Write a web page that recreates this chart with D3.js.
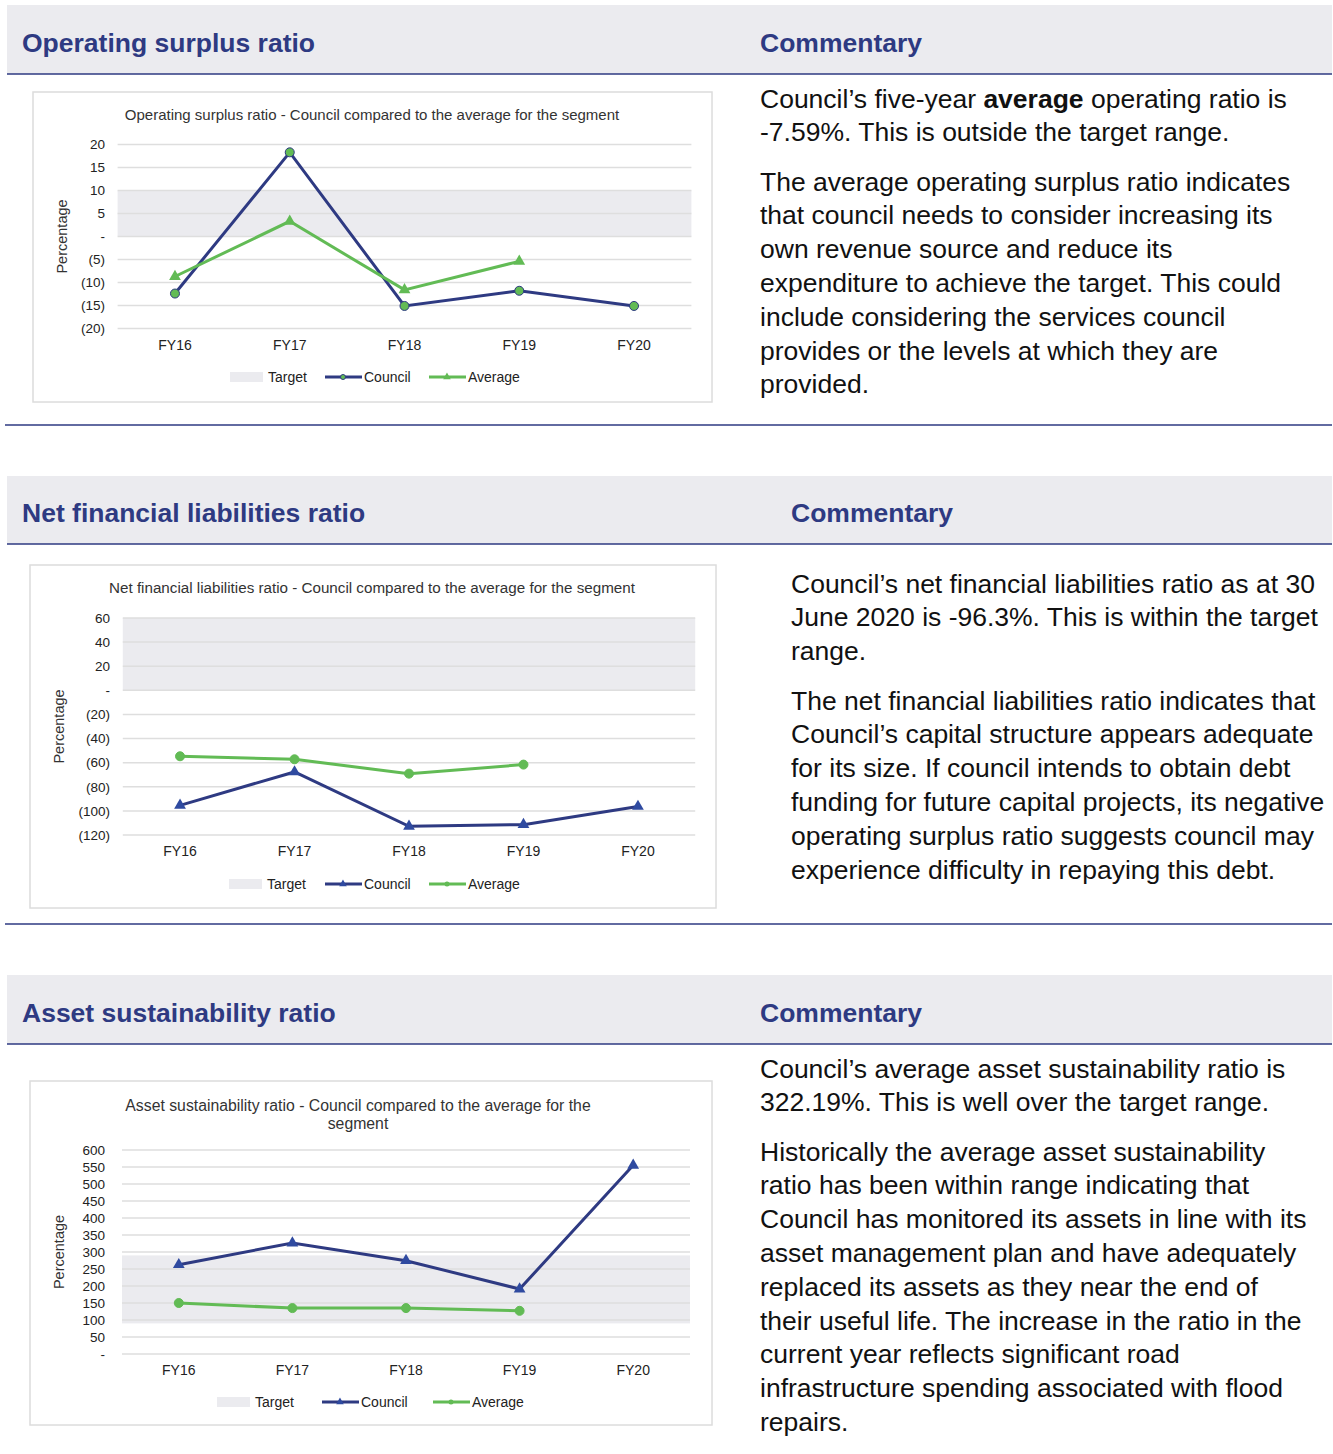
<!DOCTYPE html>
<html lang="en">
<head>
<meta charset="UTF-8">
<title>Financial sustainability ratios</title>
<style>
  body { margin: 0; background: #fff; font-family: "Liberation Sans", Arial, sans-serif; }
  svg text { font-family: "Liberation Sans", Arial, sans-serif; }
  .hdr { font-size: 26.5px; font-weight: bold; fill: #2e3a82; }
  .comm { font-size: 26.5px; fill: #111; }
  .ctitle { fill: #333; }
  .ytick { font-size: 13.5px; fill: #222; }
  .xtick { font-size: 14px; fill: #222; }
  .ylab { font-size: 14.5px; fill: #333; }
  .leg { font-size: 14px; fill: #222; }
</style>
</head>
<body>
<svg id="page"></svg>
<script src="https://d3js.org/d3.v7.min.js"></script>
<script>
// ---- data ----
const years = ["FY16", "FY17", "FY18", "FY19", "FY20"];

const osrCouncil = [-12.4, 18.3, -15.1, -11.8, -15.1];
const osrAverage = [-8.7, 3.3, -11.6, -5.4, null];
const osrTarget = [0, 10];
const osrTicks = [20, 15, 10, 5, 0, -5, -10, -15, -20];

const nflCouncil = [-95.4, -67.7, -112.8, -111.4, -96.3];
const nflAverage = [-54.7, -57.2, -69.1, -61.6, null];
const nflTarget = [0, 60];
const nflTicks = [60, 40, 20, 0, -20, -40, -60, -80, -100, -120];

const asrCouncil = [262.6, 326.5, 274.5, 191.0, 555.0];
const asrAverage = [150, 135, 135, 127, null];
const asrTarget = [90, 290];
const asrTicks = [600, 550, 500, 450, 400, 350, 300, 250, 200, 150, 100, 50, 0];

const navy = "#2e3a82";
const green = "#62bb55";
const band = "#ebebef";

const svg = d3.select("#page").attr("width", 1333).attr("height", 1454);

// accounting style tick labels
const fmt = v => v === 0 ? "-" : v < 0 ? "(" + Math.abs(v) + ")" : String(v);

// ---- section headers / rules ----
const sections = [
  { top: 5, h: 69, left: "Operating surplus ratio", rx: 760, bottom: 425 },
  { top: 476, h: 68, left: "Net financial liabilities ratio", rx: 791, bottom: 924 },
  { top: 975, h: 69, left: "Asset sustainability ratio", rx: 760, bottom: null }
];
sections.forEach(s => {
  svg.append("rect").attr("x", 7).attr("y", s.top).attr("width", 1325).attr("height", s.h).attr("fill", band);
  svg.append("line").attr("x1", 7).attr("x2", 1332).attr("y1", s.top + s.h).attr("y2", s.top + s.h)
    .attr("stroke", navy).attr("stroke-width", 1.3);
  svg.append("text").attr("class", "hdr").attr("x", 22).attr("y", s.top + s.h / 2 + 12).text(s.left);
  svg.append("text").attr("class", "hdr").attr("x", s.rx).attr("y", s.top + s.h / 2 + 12).text("Commentary");
  if (s.bottom) {
    svg.append("line").attr("x1", 5).attr("x2", 1332).attr("y1", s.bottom).attr("y2", s.bottom)
      .attr("stroke", navy).attr("stroke-width", 1.3);
  }
});

// ---- commentary ----
const comments = [
  { x: 760, paras: [
    { y: 98, lines: [["Council’s five-year ", ["average"], " operating ratio is"], ["-7.59%. This is outside the target range."]] },
    { y: 181, lines: [["The average operating surplus ratio indicates"], ["that council needs to consider increasing its"],
      ["own revenue source and reduce its"], ["expenditure to achieve the target. This could"],
      ["include considering the services council"], ["provides or the levels at which they are"], ["provided."]] }
  ]},
  { x: 791, paras: [
    { y: 583, lines: [["Council’s net financial liabilities ratio as at 30"], ["June 2020 is -96.3%. This is within the target"], ["range."]] },
    { y: 700, lines: [["The net financial liabilities ratio indicates that"], ["Council’s capital structure appears adequate"],
      ["for its size. If council intends to obtain debt"], ["funding for future capital projects, its negative"],
      ["operating surplus ratio suggests council may"], ["experience difficulty in repaying this debt."]] }
  ]},
  { x: 760, paras: [
    { y: 1068, lines: [["Council’s average asset sustainability ratio is"], ["322.19%. This is well over the target range."]] },
    { y: 1151, lines: [["Historically the average asset sustainability"], ["ratio has been within range indicating that"],
      ["Council has monitored its assets in line with its"], ["asset management plan and have adequately"],
      ["replaced its assets as they near the end of"], ["their useful life. The increase in the ratio in the"],
      ["current year reflects significant road"], ["infrastructure spending associated with flood"], ["repairs."]] }
  ]}
];
comments.forEach(c => {
  c.paras.forEach(p => {
    p.lines.forEach((ln, i) => {
      const t = svg.append("text").attr("class", "comm").attr("x", c.x).attr("y", p.y + 9.5 + i * 33.8);
      ln.forEach(part => {
        if (Array.isArray(part)) t.append("tspan").attr("font-weight", "bold").text(part[0]);
        else t.append("tspan").text(part);
      });
    });
  });
});

// ---- charts ----
function triangle(g, x, y, r, fill) {
  g.append("path").attr("d", d3.symbol().type(d3.symbolTriangle).size(r)())
    .attr("transform", `translate(${x},${y})`).attr("fill", fill);
}

function drawChart(cfg) {
  const g = svg.append("g");
  g.append("rect").attr("x", cfg.frame[0]).attr("y", cfg.frame[1]).attr("width", cfg.frame[2]).attr("height", cfg.frame[3])
    .attr("fill", "#fff").attr("stroke", "#dcdcdc").attr("stroke-width", 1.5);

  const x = d3.scaleBand().domain(years).range([cfg.x0, cfg.x1]);
  const y = d3.scaleLinear().domain([cfg.ticks[cfg.ticks.length - 1], cfg.ticks[0]]).range([cfg.yBot, cfg.yTop]);

  // title
  cfg.title.forEach((t, i) => {
    g.append("text").attr("class", "ctitle").attr("font-size", cfg.titleSize).attr("x", cfg.titleX).attr("y", cfg.titleY + i * 18)
      .attr("text-anchor", "middle").text(t);
  });

  // target band
  g.append("rect").attr("x", cfg.x0).attr("width", cfg.x1 - cfg.x0)
    .attr("y", y(cfg.target[1])).attr("height", y(cfg.target[0]) - y(cfg.target[1])).attr("fill", band);

  // grid
  g.append("g").selectAll("line").data(cfg.ticks).join("line")
    .attr("x1", cfg.x0).attr("x2", cfg.x1).attr("y1", d => y(d)).attr("y2", d => y(d))
    .attr("stroke", "#dedede").attr("stroke-width", 1.5);

  // y axis
  const ya = g.append("g").attr("transform", `translate(${cfg.tickX},0)`)
    .call(d3.axisLeft(y).tickValues(cfg.ticks).tickFormat(fmt).tickSize(0).tickPadding(0));
  ya.select(".domain").remove();
  ya.selectAll("text").attr("class", "ytick").attr("font-family", null).attr("font-size", null).attr("fill", null);

  g.append("text").attr("class", "ylab").attr("text-anchor", "middle")
    .attr("transform", `translate(${cfg.ylabX},${(cfg.yTop + cfg.yBot) / 2}) rotate(-90)`).text("Percentage");

  // x axis
  const xa = g.append("g").attr("transform", `translate(0,${cfg.xlabY})`)
    .call(d3.axisBottom(x).tickSize(0).tickPadding(0));
  xa.select(".domain").remove();
  xa.selectAll("text").attr("class", "xtick").attr("font-family", null).attr("font-size", null).attr("fill", null)
    .attr("dy", "0.35em");

  const line = d3.line().defined(d => d[1] != null).x(d => x(d[0]) + x.bandwidth() / 2).y(d => y(d[1]));
  const council = years.map((yr, i) => [yr, cfg.council[i]]);
  const average = years.map((yr, i) => [yr, cfg.average[i]]);

  g.append("path").datum(council).attr("d", line).attr("fill", "none").attr("stroke", navy).attr("stroke-width", 3);
  g.append("path").datum(average).attr("d", line).attr("fill", "none").attr("stroke", green).attr("stroke-width", 3);

  const cx = d => x(d[0]) + x.bandwidth() / 2;
  function marks(data, kind, fill, stroke) {
    data.filter(d => d[1] != null).forEach(d => {
      if (kind === "circle") {
        g.append("circle").attr("cx", cx(d)).attr("cy", y(d[1])).attr("r", cfg.circleR)
          .attr("fill", fill).attr("stroke", stroke).attr("stroke-width", 1);
      } else {
        triangle(g, cx(d), y(d[1]), 60, fill);
      }
    });
  }
  marks(council, cfg.councilMark, cfg.councilMark === "circle" ? green : "#2f4aa0", navy);
  marks(average, cfg.averageMark, green, green);

  // legend
  const L = cfg.legend;
  g.append("rect").attr("x", L.sw).attr("y", L.y - 5).attr("width", 33).attr("height", 10).attr("fill", band);
  g.append("text").attr("class", "leg").attr("x", L.sw + 38).attr("y", L.y + 5).text("Target");
  g.append("line").attr("x1", L.cl).attr("x2", L.cl + 37).attr("y1", L.y).attr("y2", L.y).attr("stroke", navy).attr("stroke-width", 3);
  if (cfg.councilMark === "circle") g.append("circle").attr("cx", L.cl + 18).attr("cy", L.y).attr("r", 2.5).attr("fill", green).attr("stroke", navy);
  else triangle(g, L.cl + 18, L.y, 25, "#2f4aa0");
  g.append("text").attr("class", "leg").attr("x", L.cl + 39).attr("y", L.y + 5).text("Council");
  g.append("line").attr("x1", L.av).attr("x2", L.av + 37).attr("y1", L.y).attr("y2", L.y).attr("stroke", green).attr("stroke-width", 3);
  if (cfg.averageMark === "circle") g.append("circle").attr("cx", L.av + 18).attr("cy", L.y).attr("r", 2.5).attr("fill", green);
  else triangle(g, L.av + 18, L.y, 25, green);
  g.append("text").attr("class", "leg").attr("x", L.av + 39).attr("y", L.y + 5).text("Average");
}

drawChart({
  frame: [33, 92, 679, 310],
  title: ["Operating surplus ratio - Council compared to the average for the segment"], titleX: 372, titleY: 120, titleSize: 15,
  x0: 117.6, x1: 691.4, yTop: 144.5, yBot: 328.5, ticks: osrTicks, target: osrTarget,
  tickX: 105, ylabX: 67, xlabY: 345,
  council: osrCouncil, average: osrAverage, councilMark: "circle", averageMark: "triangle", circleR: 4.5,
  legend: { y: 377, sw: 230, cl: 325, av: 429 }
});

drawChart({
  frame: [30, 565, 686, 343],
  title: ["Net financial liabilities ratio - Council compared to the average for the segment"], titleX: 372, titleY: 593, titleSize: 15.2,
  x0: 122.8, x1: 695.2, yTop: 618, yBot: 835, ticks: nflTicks, target: nflTarget,
  tickX: 110, ylabX: 64, xlabY: 851,
  council: nflCouncil, average: nflAverage, councilMark: "triangle", averageMark: "circle", circleR: 4.5,
  legend: { y: 884, sw: 229, cl: 325, av: 429 }
});

drawChart({
  frame: [30, 1081, 682, 344],
  title: ["Asset sustainability ratio - Council compared to the average for the", "segment"], titleX: 358, titleY: 1111, titleSize: 15.8,
  x0: 122, x1: 690, yTop: 1150, yBot: 1354, ticks: asrTicks, target: asrTarget,
  tickX: 105, ylabX: 64, xlabY: 1370,
  council: asrCouncil, average: asrAverage, councilMark: "triangle", averageMark: "circle", circleR: 4.5,
  legend: { y: 1402, sw: 217, cl: 322, av: 433 }
});
</script>
</body>
</html>
